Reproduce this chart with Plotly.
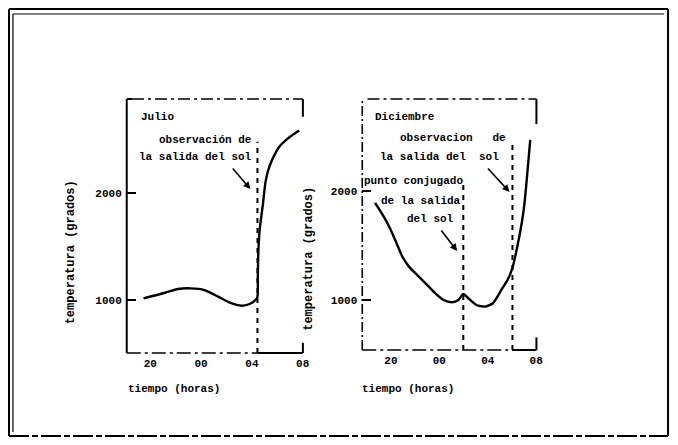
import plotly.graph_objects as go

# page body has an 8px margin; the figure is sized so it ends at the window edge
OFF = 8
W, H = 678 - OFF, 445 - 2 * OFF

# ---------------- data (hours relative to midnight, temperature in grados) ----
hour_ticks = [-4, 0, 4, 8]
hour_labels = ["20", "00", "04", "08"]
temp_ticks = [1000, 2000]

julio_h = [-4.54, -2.84, -1.83, -0.83, 0.26, 1.26, 2.27, 3.20, 3.82, 4.28, 4.44,
           4.47, 4.51, 4.61, 4.88, 5.06, 5.29, 5.65, 6.16, 6.68, 7.20, 7.73]
julio_t = [1016, 1068, 1103, 1109, 1093, 1037, 975, 947, 963, 1000, 1031,
           1234, 1449, 1654, 1904, 2093, 2215, 2324, 2433, 2495, 2542, 2584]

dic_h = [-5.31, -4.68, -4.14, -3.59, -3.05, -2.51, -1.69, -0.87, -0.33, 0.35, 1.04,
         1.58, 1.98, 2.39, 3.07, 3.76, 4.43, 5.12, 5.63, 6.04, 6.45, 6.78, 7.02, 7.27, 7.51]
dic_t = [1890, 1780, 1672, 1535, 1397, 1306, 1214, 1122, 1061, 1000, 979,
         1000, 1055, 1016, 954, 939, 970, 1092, 1183, 1294, 1495, 1688, 1872, 2165, 2468]

julio_sunrise = 4.44          # observación de la salida del sol
julio_sunrise_top = 2480
dic_conj = 1.98               # punto conjugado de la salida del sol
dic_conj_top = 2100
dic_sunrise = 6.04            # observación de la salida del sol
dic_sunrise_top = 2468

FONT = "Liberation Mono"
BLK = "black"


def px(x):
    return (x - OFF) / W


def py(y):
    return 1 - (y - OFF) / H


fig = go.Figure()

# curves
fig.add_trace(go.Scatter(x=julio_h, y=julio_t, mode="lines", xaxis="x", yaxis="y",
                         line=dict(color=BLK, width=2.4, shape="spline", smoothing=0.6),
                         showlegend=False, hoverinfo="skip"))
fig.add_trace(go.Scatter(x=dic_h, y=dic_t, mode="lines", xaxis="x2", yaxis="y2",
                         line=dict(color=BLK, width=2.4, shape="spline", smoothing=0.6),
                         showlegend=False, hoverinfo="skip"))

# sunrise dashed verticals
fig.add_trace(go.Scatter(x=[julio_sunrise, julio_sunrise], y=[505, julio_sunrise_top],
                         mode="lines", xaxis="x", yaxis="y",
                         line=dict(color=BLK, width=2, dash="5px,5px"),
                         showlegend=False, hoverinfo="skip"))
fig.add_trace(go.Scatter(x=[dic_conj, dic_conj], y=[541, dic_conj_top],
                         mode="lines", xaxis="x2", yaxis="y2",
                         line=dict(color=BLK, width=2, dash="5px,5px"),
                         showlegend=False, hoverinfo="skip"))
fig.add_trace(go.Scatter(x=[dic_sunrise, dic_sunrise], y=[541, dic_sunrise_top],
                         mode="lines", xaxis="x2", yaxis="y2",
                         line=dict(color=BLK, width=2, dash="5px,5px"),
                         showlegend=False, hoverinfo="skip"))

tickfont = dict(family=FONT, size=11, color=BLK, weight="bold")
xcommon = dict(tickvals=hour_ticks, ticktext=hour_labels, showgrid=False, zeroline=False,
               showline=False, ticks="", tickfont=tickfont, ticklabelstandoff=2,
               fixedrange=True)
ycommon = dict(tickvals=temp_ticks, ticktext=[str(v) for v in temp_ticks], showgrid=False,
               zeroline=False, showline=False, ticks="inside", ticklen=9, tickwidth=2,
               tickcolor=BLK, tickfont=tickfont, ticklabelstandoff=4, fixedrange=True)

fig.update_layout(
    width=W, height=H,
    margin=dict(l=0, r=0, t=0, b=0),
    paper_bgcolor="white", plot_bgcolor="white",
    xaxis=dict(domain=[px(128), px(306)], range=[-5.86, 8.02], anchor="y", **xcommon),
    yaxis=dict(domain=[py(353), py(99)], range=[505, 2879], anchor="x", **ycommon),
    xaxis2=dict(domain=[px(366), px(542)], range=[-6.37, 8.02], anchor="y2", **xcommon),
    yaxis2=dict(domain=[py(350), py(99)], range=[541, 2844], anchor="x2", **ycommon),
)

shapes = []


def seg(xref, yref, x0, y0, x1, y1, width=2, dash="solid"):
    shapes.append(dict(type="line", xref=xref, yref=yref, x0=x0, y0=y0, x1=x1, y1=y1,
                       line=dict(color=BLK, width=width, dash=dash)))


# outer frame (double line top/left)
seg("paper", "paper", px(9), py(9), px(675), py(9), 2)
seg("paper", "paper", px(9), py(9), px(9), py(436), 2)
seg("paper", "paper", px(13), py(14), px(671), py(14), 1.2)
seg("paper", "paper", px(13), py(14), px(13), py(432), 1.2)
seg("paper", "paper", px(675), py(9), px(675), py(436), 2)
seg("paper", "paper", px(9), py(436), px(675), py(436), 2, "20px,3px,6px,3px")

# left panel frame
xd, yd = "x domain", "y domain"
seg(xd, yd, 0, 0, 0, 1, 2)
seg(xd, yd, 0, 1, 0.03, 1, 2)
seg(xd, yd, 0.03, 1, 1, 1, 1.4, "12px,4px,3px,4px")
seg(xd, yd, 1, 1, 1, 0.93, 2)
seg(xd, yd, 1, 0.04, 1, 0, 2)
seg(xd, yd, 0, 0, 0.745, 0, 1.6, "14px,4px,3px,4px")
seg(xd, yd, 0.745, 0, 1, 0, 2)

# right panel frame
xd2, yd2 = "x2 domain", "y2 domain"
seg(xd2, yd2, 0, 0, 0, 1, 1.6, "10px,3px,2px,3px")
seg(xd2, yd2, 0.03, 1, 1, 1, 1.4, "12px,4px,3px,4px")
seg(xd2, yd2, 1, 1, 1, 0.9, 2)
seg(xd2, yd2, 1, 0.05, 1, 0, 2)
seg(xd2, yd2, 0, 0, 0.86, 0, 1.6, "14px,4px,3px,4px")
seg(xd2, yd2, 0.86, 0, 1, 0, 2)

fig.update_layout(shapes=shapes)

afont = dict(family=FONT, size=11, color=BLK, weight="bold")
ann = []


def text(x, y, s, anchor="left", size=11, angle=0):
    f = dict(afont)
    f["size"] = size
    ann.append(dict(xref="paper", yref="paper", x=px(x), y=py(y), text=s, showarrow=False,
                    xanchor=anchor, yanchor="middle", font=f, textangle=angle))


text(140, 117, "Julio")
text(257, 140, "observación de", "right")
text(257, 157, "la salida del sol", "right")
text(377, 117, "Diciembre")
text(402, 138, "observacion   de")
text(382, 157, "la salida del  sol")
text(366, 181, "punto conjugado")
text(468, 201, "de la salida", "right")
text(461, 219, "del sol", "right")
text(127, 389, "tiempo (horas)")
text(364, 389, "tiempo (horas)")
text(72, 252, "temperatura (grados)", "center", 12, -90)
text(312, 259, "temperatura (grados)", "center", 12, -90)


def arrow(xr, yr, x, y, ax, ay):
    ann.append(dict(xref=xr, yref=yr, x=x, y=y, ax=ax, ay=ay, axref="pixel", ayref="pixel",
                    text="", showarrow=True, arrowhead=2, arrowsize=0.9, arrowwidth=1.6,
                    arrowcolor=BLK, standoff=0))


arrow("x", "y", 3.89, 2037, -19, -22)
arrow("x2", "y2", 5.80, 1991, -23, -25)
arrow("x2", "y2", 1.47, 1450, -17, -22)

fig.update_layout(annotations=ann)

fig.write_html("out.html")
